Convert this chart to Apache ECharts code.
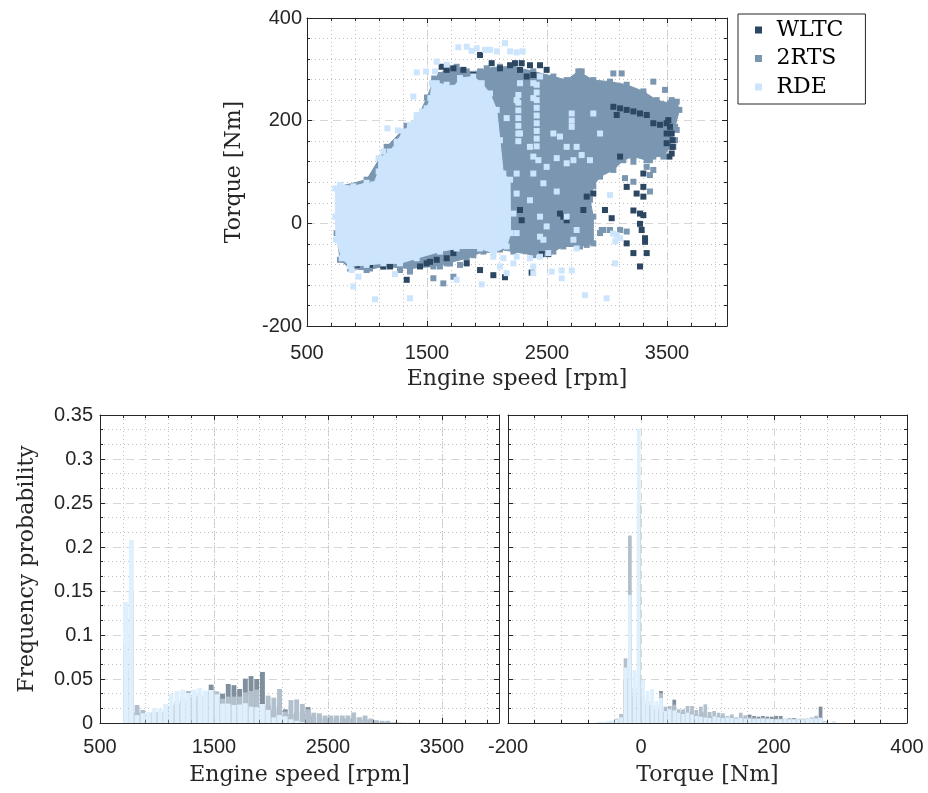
<!DOCTYPE html>
<html><head><meta charset="utf-8">
<script src="https://cdn.jsdelivr.net/npm/echarts@6/dist/echarts.min.js"></script>
<style>html,body{margin:0;padding:0;background:#fff}#c{width:928px;height:793px}</style>
</head><body><div id="c"></div>
<script>
// ---------- DATA ----------
const seriesNames = ['WLTC', '2RTS', 'RDE'];
const speedTicks = [500, 1500, 2500, 3500];
const torqueTicks = [-200, 0, 200, 400];

// Scatter: dense cores (outline), [rpm, Nm]
const rtsCore = [[1420,205],[1500,245],[1560,282],[1608,289],[1664,305],[1747,305],[1831,296],[1942,296],[1997,302],[2108,305],[2220,305],[2386,296],[2553,286],[2664,279],[2761,296],[2886,279],[3025,276],[3164,270],[3303,257],[3414,240],[3525,234],[3581,237],[3603,221],[3567,188],[3525,149],[3470,130],[3386,130],[3331,123],[3220,130],[3136,123],[3053,104],[2942,91],[2886,72],[2858,46],[2886,13],[2886,-39],[2775,-45],[2636,-45],[2553,-55],[2386,-62],[2220,-55],[2108,-51],[1970,-55],[1831,-68],[1664,-78],[1553,-84],[1358,-88],[1136,-84],[997,-91],[858,-88],[775,-71],[747,-19],[775,72],[997,85],[1164,149],[1330,190]];
const rdeCore = [[736,68],[775,75],[886,72],[997,79],[1053,76],[1097,101],[1097,127],[1192,140],[1247,159],[1303,179],[1358,192],[1414,211],[1458,218],[1497,224],[1528,244],[1539,273],[1581,273],[1664,270],[1720,264],[1775,283],[1886,286],[1956,273],[2025,253],[2081,221],[2108,162],[2136,97],[2192,85],[2197,-19],[2164,-45],[2053,-58],[1942,-49],[1747,-49],[1608,-55],[1414,-68],[1275,-78],[1136,-78],[997,-81],[858,-84],[789,-68],[742,-32],[736,13]];

// Scatter: individual points [rpm, Nm]
const wltcPoints = [[1942,328],[2039,312],[1720,302],[1803,299],[1886,289],[2233,312],[2289,312],[2358,308],[2442,308],[2497,299],[2331,286],[2386,289],[2275,299],[2192,308],[2108,302],[1664,299],[1622,305],
[3053,227],[3109,224],[3164,221],[3220,218],[3275,214],[3331,211],[3081,211],[3386,195],[3442,192],[3497,195],
[3511,201],[3525,188],[3539,175],[3547,162],[3547,149],[3539,136],[3520,130],[3497,175],[3497,156],
[3109,130],[3303,97],[3164,71],[3303,71],[3247,58],[3303,52],[2983,26],[3039,10],[3220,25],[3275,19],[3303,16],[3275,-1],[3289,-13],[3317,-29],[3317,-36],[3331,-58],[3275,-84],[3220,-58],[3164,-39],[2831,52],[2803,26],[2664,6],[2636,13],[2608,19],[2275,26],[2289,6],[2886,58],
[1331,-110],[1442,-84],[1497,-78],[1525,-75],[1581,-71],[1664,-68],[1720,-58],[1831,-78],[1942,-91],[2053,-101],[2150,-105],[2372,-96],[2456,-60],[2511,-60],[858,-81],[914,-81],[1025,-81],[1136,-84],[1192,-84]];
const rtsPoints = [[2789,296],[3053,292],[3122,292],[3386,276],[3484,260],[3303,251],[3220,120],[3358,123],[3331,110],[3386,104],[3358,94],[3150,88],[3220,81],[3358,62],[2970,-13],[3025,-13],[3109,-13],[3164,-16],[2942,-19],[2956,-13],[2831,-19],[2858,-32],[2831,-42],[2803,3],[1997,-52],[2053,-51],[1886,-62],[1692,-78],[1608,-84],[1553,-107],[1636,-117],[1358,-94],[1275,-91],[1025,-88],[956,-84],[1720,-104],[1775,-81],[3567,162],[3581,182],[3553,149],[3539,240],[3567,227]];
const rdePoints = [[1761,343],[1831,344],[1872,336],[1914,341],[1983,338],[2025,338],[2081,335],[2150,351],[2192,335],[2247,333],[2297,335],[1581,315],[1664,309],[1414,294],[1492,296],[1567,296],[1386,247],[1170,185],[1258,181],[1136,140],
[886,-123],[928,-104],[872,-91],[1067,-148],[1358,-146],[1233,-99],[1747,-110],[1956,-119],[2164,-97],[2386,-84],[2539,-94],[2622,-92],[2706,-92],[2622,-107],[2747,-49],[2817,-140],[2997,-146],[3067,-78],[3025,55],[3081,-23],[3109,-29],[3050,-20],[3070,-35],[2442,-65],[2358,-68],[2247,-65],[2136,-68],[2053,-65],[2511,-58],[2220,-78],[2108,-84],[2386,-97],
[2164,205],[2247,240],[2386,244],[2275,175],[2358,149],[2386,130],[2428,123],[2497,110],[2581,127],[2664,117],[2720,123],[2789,133],[2858,123],[2886,214],[2942,175],[2247,97],[2386,97],[2470,78],[2581,62],[2247,58],[2358,45],[2442,13],[2497,-6],[2664,13],[2720,-32],[2747,-13],[2275,273],[2386,273],[2442,286],[2553,175],[2608,169],[2664,149],[2747,149],[2442,-26],[2470,-32],[2220,19],[2247,-19],
[2261,250],[2261,235],[2261,220],[2261,205],[2261,190],[2261,175],[2261,160],[2414,270],[2414,255],[2414,240],[2414,225],[2414,210],[2414,195],[2414,180],[2414,165],[2414,150],[2706,214],[2706,200],[2706,188]];

// Histogram: engine speed (bin centres, rpm) and frequency probability
const speedBins = [725,775,825,875,925,975,1025,1075,1125,1175,1225,1275,1325,1375,1425,1475,1525,1575,1625,1675,1725,1775,1825,1875,1925,1975,2025,2075,2125,2175,2225,2275,2325,2375,2425,2475,2525,2575,2625,2675,2725,2775,2825,2875,2925,2975,3025,3075,3125,3175,3225,3275];
const wltcSpeed = [.06,.12,.012,.01,.01,.012,.012,.015,.02,.022,.025,.028,.03,.03,.032,.0436,.03,.0333,.0443,.043,.0386,.0504,.0533,.050,.058,.02,.015,.02,.0155,.01,.012,.012,.018,.008,.006,.005,.005,.005,.005,.005,.006,.004,.004,.003,.002,.001,.001,0,0,0,0,0];
const rtsSpeed = [.09,.15,.0205,.0148,.011,.012,.012,.015,.02,.025,.03,.0364,.03,.033,.035,.035,.036,.0277,.03,.03,.03,.0348,.0364,.038,.02,.0311,.0288,.0387,.0129,.026,.0268,.0216,.0155,.0117,.011,.0085,.0085,.0085,.0085,.0085,.012,.0066,.0085,.005,.0032,.0025,.0025,.0008,.0005,.0003,.0003,.0002];
const rdeSpeed = [.1375,.208,.009,.011,.0125,.017,.0163,.0216,.033,.0364,.038,.034,.038,.0398,.037,.0375,.0326,.022,.022,.0205,.021,.0224,.0186,.018,.0216,.0148,.0064,.009,.0076,.0042,.0025,.001,0,0,0,0,0,0,0,0,0,0,0,0,0,0,0,0,0,0,0,0];

// Histogram: torque (bin centres, Nm)
const torqueBins = [-63.3,-56.7,-50,-43.3,-36.7,-30,-23.3,-16.7,-10,-3.3,3.3,10,16.7,23.3,30,36.7,43.3,50,56.7,63.3,70,76.7,83.3,90,96.7,103.3,110,116.7,123.3,130,136.7,143.3,150,156.7,163.3,170,176.7,183.3,190,196.7,203.3,210,216.7,223.3,230,236.7,243.3,250,256.7,263.3,270,276.7,283.3,290];
const wltcTorque = [0,0,.001,.001,.002,.005,.05,.1,.03,.25,.03,.02,.02,.015,.0364,.012,.015,.0265,.012,.012,.012,.012,.01,.012,.012,.008,.008,.008,.007,.006,.006,.005,.006,.006,.0095,.008,.0072,.008,.0072,.0072,.008,.008,.0045,.0045,.0057,.004,.004,.004,.004,.004,.0186,.001,0,0];
const rtsTorque = [.001,.001,.0015,.002,.005,.0102,.0735,.213,.04,.2,.03,.025,.02,.02,.0337,.0186,.0193,.0208,.0155,.0155,.0193,.0193,.0148,.0186,.0212,.0125,.0136,.0117,.011,.008,.0098,.0064,.0117,.0087,.0064,.006,.0057,.006,.0057,.0049,.0049,.0049,.0049,.0057,.0049,.0049,.0049,.0053,.0064,.0083,.004,.002,0,.0015];
const rdeTorque = [.001,.0015,.002,.003,.004,.0064,.063,.1455,.060,.334,.0489,.0364,.0386,.025,.0284,.0136,.0155,.0144,.0117,.0102,.0117,.0098,.008,.0072,.0064,.0057,.0075,.0064,.0057,.0064,.0057,.005,.0057,.005,.005,.0045,.0045,.005,.0045,.0045,.0042,.0042,.0045,.0042,.0042,.0042,.0042,.005,.005,.005,.006,.001,0,.0015];

// ---------- STYLE ----------
const serif = '"DejaVu Serif", "Liberation Serif", serif';
const sans = '"Liberation Sans", Arial, Helvetica, sans-serif';
const ink = '#262626';
const scatterColors = {WLTC: '#2c4762', '2RTS': '#7b96b0', RDE: '#cce5fd'};
const barColors = {WLTC: '#808f9d', '2RTS': '#b2c0cd', RDE: '#def0fe'};
const majorGrid = {show: true, lineStyle: {color: '#d6d6d6', width: 1, type: [8, 5]}};
const minorGrid = {show: true, lineStyle: {color: '#c2c2c2', width: 1, type: [1, 3]}};
const plain = v => String(+v.toFixed(6));

function frameAxis(gridIndex, min, max, interval, position, opts) {
  opts = opts || {};
  return Object.assign({
    type: 'value', gridIndex, min, max, interval, position,
    axisLine: {show: true, onZero: false, lineStyle: {color: ink, width: 1}},
    axisTick: {show: true, inside: true, length: 5, lineStyle: {color: ink}},
    axisLabel: {show: false},
    splitLine: {show: false},
    minorTick: {show: false},
    minorSplitLine: {show: false}
  }, opts);
}
function labels(margin, extra) {
  return Object.assign({show: true, color: ink, fontFamily: sans, fontSize: 20, margin, formatter: plain}, extra || {});
}
function nameOpts(name, gap) {
  return {name, nameLocation: 'middle', nameGap: gap, nameTextStyle: {fontFamily: serif, fontSize: 22, color: ink}};
}
// speed axes: minor every 200 drawn with a second axis (interval 200)
function speedAxes(g, nameGap, labelMargin) {
  const lo = speedTicks[0], hi = 4000;
  return [
    frameAxis(g, lo, hi, 1000, 'bottom', Object.assign({axisLabel: labels(labelMargin, {showMaxLabel: false}), splitLine: majorGrid}, nameOpts('Engine speed [rpm]', nameGap))),
    frameAxis(g, lo, hi, 200, 'bottom', {axisLine: {show: false, onZero: false}, axisTick: {show: true, inside: true, length: 3, lineStyle: {color: ink}}, splitLine: minorGrid}),
    frameAxis(g, lo, hi, 1000, 'top', {}),
    frameAxis(g, lo, hi, 200, 'top', {axisLine: {show: false, onZero: false}, axisTick: {show: true, inside: true, length: 3, lineStyle: {color: ink}}})
  ];
}
const minorTick = n => ({show: true, splitNumber: n, length: 3, lineStyle: {color: ink}});

const xAxes = [].concat(
  speedAxes(0, 42, 17),
  speedAxes(1, 41, 14),
  [
    frameAxis(2, torqueTicks[0], torqueTicks[3], 200, 'bottom', Object.assign({axisLabel: labels(14), splitLine: majorGrid, minorTick: minorTick(5), minorSplitLine: minorGrid}, nameOpts('Torque [Nm]', 41))),
    frameAxis(2, torqueTicks[0], torqueTicks[3], 200, 'top', {minorTick: minorTick(5)})
  ]
);
const yAxes = [
  frameAxis(0, torqueTicks[0], torqueTicks[3], 200, 'left', Object.assign({axisLabel: labels(5), splitLine: majorGrid, minorTick: minorTick(5), minorSplitLine: minorGrid}, nameOpts('Torque [Nm]', 62))),
  frameAxis(0, torqueTicks[0], torqueTicks[3], 200, 'right', {minorTick: minorTick(5)}),
  frameAxis(1, 0, 0.35, 0.05, 'left', Object.assign({axisLabel: labels(7), splitLine: majorGrid, minorTick: minorTick(3), minorSplitLine: minorGrid}, nameOpts('Frequency probability', 62))),
  frameAxis(1, 0, 0.35, 0.05, 'right', {minorTick: minorTick(3)}),
  frameAxis(2, 0, 0.35, 0.05, 'left', {splitLine: majorGrid, minorTick: minorTick(3), minorSplitLine: minorGrid}),
  frameAxis(2, 0, 0.35, 0.05, 'right', {minorTick: minorTick(3)})
];

function coreSeries(name, pts, color, z) {
  return {
    type: 'custom', name: name + ' core', xAxisIndex: 0, yAxisIndex: 0, z, silent: true, clip: true,
    data: pts, encode: {x: 0, y: 1},
    renderItem(params, api) {
      if (params.dataIndex !== 0) return null;
      return {type: 'polygon', shape: {points: pts.map(p => api.coord(p))},
        style: {fill: color, stroke: color, lineWidth: 1}};
    }
  };
}
// squares on the outline of a dense core give the ragged edge of the cloud
function edgeSeries(name, pts, z) {
  return {type: 'scatter', name: name + ' edge', xAxisIndex: 0, yAxisIndex: 0, z, silent: true, clip: true,
    symbol: 'rect', symbolSize: 6, data: pts, itemStyle: {color: scatterColors[name], opacity: 1}};
}
function pointSeries(name, pts, z) {
  return {type: 'scatter', name, xAxisIndex: 0, yAxisIndex: 0, z, silent: true, clip: true,
    symbol: 'rect', symbolSize: 6, data: pts,
    itemStyle: {color: scatterColors[name], opacity: 1}};
}
function histSeries(name, bins, vals, xi, yi, w) {
  return {type: 'bar', name: name + ' hist', xAxisIndex: xi, yAxisIndex: yi, barWidth: w, barGap: '-100%',
    silent: true, data: bins.map((b, i) => [b, vals[i]]),
    itemStyle: {color: barColors[name], borderWidth: 0}};
}

const series = [
  coreSeries('2RTS', rtsCore, scatterColors['2RTS'], 2),
  edgeSeries('2RTS', rtsCore, 2),
  pointSeries('2RTS', rtsPoints, 3),
  pointSeries('WLTC', wltcPoints, 4),
  coreSeries('RDE', rdeCore, scatterColors.RDE, 5),
  edgeSeries('RDE', rdeCore, 5),
  pointSeries('RDE', rdePoints, 6),
  histSeries('WLTC', speedBins, wltcSpeed, 4, 2, 4.9),
  histSeries('2RTS', speedBins, rtsSpeed, 4, 2, 4.9),
  histSeries('RDE', speedBins, rdeSpeed, 4, 2, 4.9),
  histSeries('WLTC', torqueBins, wltcTorque, 8, 4, 3.7),
  histSeries('2RTS', torqueBins, rtsTorque, 8, 4, 3.7),
  histSeries('RDE', torqueBins, rdeTorque, 8, 4, 3.7)
];

const chart = echarts.init(document.getElementById('c'), null, {renderer: 'canvas'});
chart.setOption({
  animation: false,
  backgroundColor: '#ffffff',
  grid: [
    {left: 307, top: 18, width: 420, height: 308, outerBoundsMode: 'none', containLabel: false},
    {left: 100, top: 415, width: 399, height: 308, outerBoundsMode: 'none', containLabel: false},
    {left: 508, top: 415, width: 399, height: 308, outerBoundsMode: 'none', containLabel: false}
  ],
  legend: {
    orient: 'vertical', left: 738, top: 14, padding: [5, 22, 6, 17], itemGap: 6.5,
    itemWidth: 26, itemHeight: 7, icon: 'path://M0 0H10V10H0Z', symbolKeepAspect: true,
    borderColor: ink, borderWidth: 1, borderRadius: 0, selectedMode: false,
    textStyle: {fontFamily: serif, fontSize: 22, color: '#000', lineHeight: 22},
    data: seriesNames
  },
  xAxis: xAxes,
  yAxis: yAxes,
  series
});
</script>
</body></html>
